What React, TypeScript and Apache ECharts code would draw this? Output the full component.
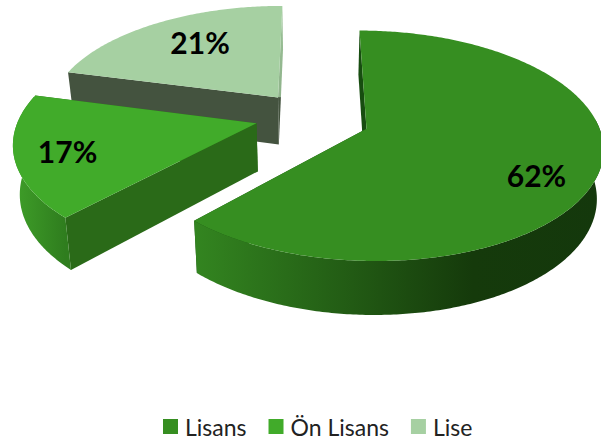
import React, { useEffect, useRef } from "react";
import * as echarts from "echarts";

const categories = ["Lisans", "Ön Lisans", "Lise"];
const values = [62, 17, 21];
const labels = ["62%", "17%", "21%"];
const topColors = ["#368e21", "#41ab2a", "#a6d0a2"];
const faceColors = ["#174d10", "#2a6a18", "#44533f"];
const endFaceStops = [
  [[0, "#174d10"], [1, "#174d10"]],
  [[0, "#2a6a18"], [1, "#2a6a18"]],
  [[0, "#9cc298"], [0.66, "#8fb38b"], [0.661, "#44533f"], [1, "#44533f"]],
];
const wallStops = [
  [[0, "#338520"], [0.68, "#153a0b"], [1, "#14380c"]],
  [[0, "#3f9f29"], [1, "#2f7d1e"]],
  [[0, "#44533f"], [1, "#44533f"]],
];

// layout of the tilted disc
const GX = 312.3, GY = 118.5, A = 230, B = 109.7, P = 0.146;
const EXPLODE = 0.25, START = 0;
const SHIFT = [[0, 0], [0, -3], [0, 0]];
const RADIUS = [1, 1.03, 1.01];
const LABEL_OFFSET = [[170, 46], [-189, 28], [-78, -55]];
const DRAW_ORDER = [3, 2, 1];
const WALL_FROM = 85, WALL_TO = 284;

const rad = (d: number) => (d * Math.PI) / 180;

function renderSlice(index: number) {
  return (_params: any, api: any) => {
    const value = api.value(0);
    const total = values.reduce((s, v) => s + v, 0);
    const before = values.slice(0, index).reduce((s, v) => s + v, 0);
    const a0 = START + (before / total) * 360;
    const a1 = a0 + (value / total) * 360;
    const mid = (a0 + a1) / 2;
    const ex = EXPLODE * Math.sin(rad(mid));
    const ey = EXPLODE * Math.cos(rad(mid));
    const [dx, dy] = SHIFT[index];
    const r = RADIUS[index];
    const proj = (X: number, Y: number) => {
      const w = 1 + P * Y;
      return [GX + (A * X) / w + dx, GY - (B * Y) / w + dy];
    };
    const low = (p: number[]) => [GX + (p[0] - GX) * 0.977, p[1] * 1.042 + 43];
    const apex = proj(ex, ey);
    const arc: number[][] = [];
    const front: number[][] = [];
    const steps = Math.ceil((a1 - a0) * 1.5);
    for (let i = 0; i <= steps; i++) {
      const deg = a0 + ((a1 - a0) * i) / steps;
      const t = rad(deg);
      const p = proj(ex + r * Math.sin(t), ey + r * Math.cos(t));
      arc.push(p);
      if (deg >= WALL_FROM && deg <= WALL_TO) front.push(p);
    }
    const first = arc[0];
    const last = arc[arc.length - 1];
    const xs = arc.map((p) => p[0]);
    const minX = Math.min(...xs);
    const maxX = Math.max(...xs);
    const gradient = (stops: any[], global: boolean) =>
      new echarts.graphic.LinearGradient(
        global ? minX : 0, 0, global ? maxX : 0, global ? 0 : 1,
        stops.map(([offset, color]) => ({ offset, color })) as any,
        global
      );
    const poly = (points: number[][], fill: any) => ({
      type: "polygon",
      shape: { points },
      style: { fill },
    });
    const children: any[] = [
      poly([apex, last, low(last), low(apex)], gradient(endFaceStops[index], false)),
      poly([apex, first, low(first), low(apex)], faceColors[index]),
    ];
    if (front.length > 1) {
      children.push(poly([...front, ...front.map(low).reverse()], gradient(wallStops[index], true)));
    }
    children.push(poly([apex, ...arc], topColors[index]));
    children.push({
      type: "text",
      x: apex[0] + LABEL_OFFSET[index][0],
      y: apex[1] + LABEL_OFFSET[index][1],
      style: {
        text: labels[index],
        fill: "#000",
        font: "bold 30px Lato",
        align: "center",
        verticalAlign: "middle",
      },
    });
    return { type: "group", children };
  };
}

export default function App() {
  const ref = useRef<HTMLDivElement>(null);
  useEffect(() => {
    document.body.style.margin = "0";
    const chart = echarts.init(ref.current!, undefined, { renderer: "svg" });
    chart.setOption({
      animation: false,
      backgroundColor: "#fff",
      legend: {
        data: categories,
        left: 163,
        top: 415,
        padding: 0,
        icon: "rect",
        itemWidth: 15,
        itemHeight: 15,
        itemGap: 22,
        selectedMode: false,
        textStyle: { fontFamily: "Lato", fontSize: 23, color: "#222", padding: [0, 0, 0, 2] },
      },
      series: categories.map((name, i) => ({
        type: "custom",
        name,
        coordinateSystem: "none",
        z: DRAW_ORDER[i],
        silent: true,
        itemStyle: { color: topColors[i] },
        renderItem: renderSlice(i),
        data: [[values[i]]],
      })),
    });
    return () => chart.dispose();
  }, []);
  return <div ref={ref} style={{ width: 601, height: 441 }} />;
}
